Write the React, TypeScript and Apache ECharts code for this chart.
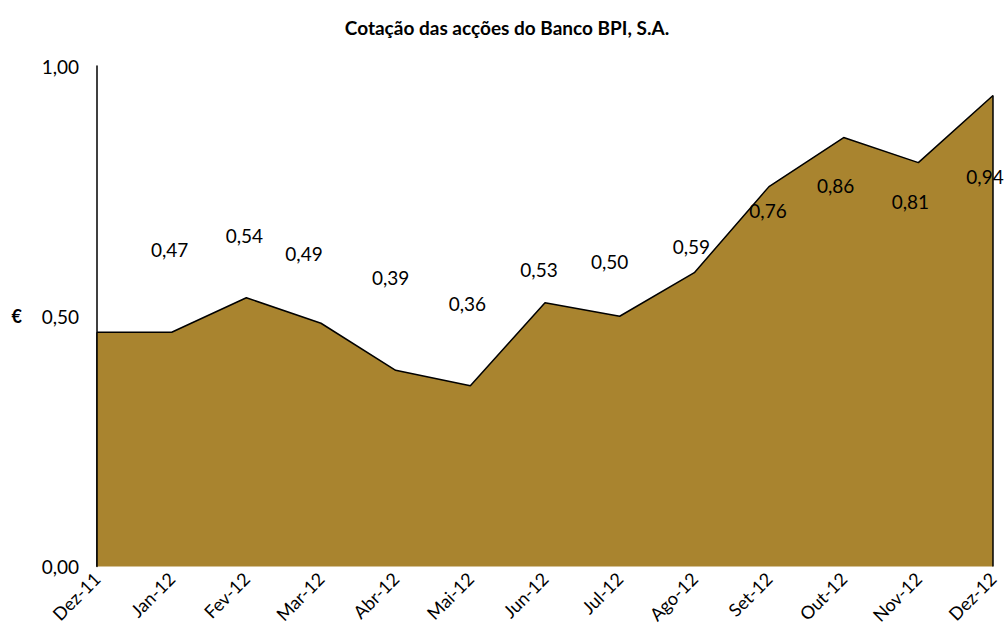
import React, { useEffect, useRef } from "react";
import * as echarts from "echarts";

const categories = ["Dez-11", "Jan-12", "Fev-12", "Mar-12", "Abr-12", "Mai-12", "Jun-12", "Jul-12", "Ago-12", "Set-12", "Out-12", "Nov-12", "Dez-12"];
const prices = [0.468, 0.468, 0.537, 0.486, 0.392, 0.361, 0.527, 0.5, 0.587, 0.759, 0.857, 0.807, 0.941];
const showLabel = [false, true, true, true, true, true, true, true, true, true, true, true, true];
const yTicks = [0, 0.5, 1];

// label placement offsets (pixels) relative to each point
const labelOffsets: [number, number][] = [
  [0, 0], [-1, -82], [-1, -61], [-16, -69], [-4, -92], [-2, -81], [-5, -32],
  [-9, -54], [-2, -25], [0, 25], [-7, 49], [-7, 40], [-7, 82],
];

const FONT = "Lato, 'Open Sans', sans-serif";

export default function App() {
  const ref = useRef<HTMLDivElement>(null);
  useEffect(() => {
    document.body.style.margin = "0";
    const chart = echarts.init(ref.current!, undefined, { renderer: "svg" });
    const fmt = (v: number) => v.toFixed(2).replace(".", ",");
    chart.setOption({
      animation: false,
      textStyle: { fontFamily: FONT },
      title: {
        text: "Cotação das acções do Banco BPI, S.A.",
        left: 502,
        textAlign: "center",
        top: 13,
        textStyle: { fontFamily: FONT, fontSize: 19, fontWeight: "bold", color: "#000" },
      },
      grid: { left: 97, right: 13, top: 66, bottom: 71.5, containLabel: false },
      xAxis: {
        type: "category",
        data: categories,
        boundaryGap: false,
        axisLine: { show: true, lineStyle: { color: "#000", width: 2, shadowColor: "rgba(0,0,0,0.35)", shadowOffsetY: 2, shadowBlur: 2 } },
        axisTick: { show: false },
        axisLabel: { rotate: 45, fontSize: 18, color: "#000", margin: 9, fontFamily: FONT, interval: 0 },
        splitLine: { show: false },
      },
      yAxis: {
        type: "value",
        min: yTicks[0],
        max: yTicks[yTicks.length - 1],
        interval: 0.5,
        name: "€",
        nameLocation: "middle",
        nameRotate: 0,
        nameGap: 75,
        nameTextStyle: { fontSize: 18, fontWeight: "bold", color: "#000", fontFamily: FONT },
        axisLine: { show: true, lineStyle: { color: "#000", width: 1.5 } },
        axisTick: { show: false },
        axisLabel: { formatter: (v: number) => fmt(v), fontSize: 19, color: "#000", margin: 18, fontFamily: FONT },
        splitLine: { show: false },
      },
      series: [
        {
          type: "line",
          data: prices.map((v, i) => ({
            value: v,
            label: { show: showLabel[i], position: labelOffsets[i] },
          })),
          symbol: "circle",
          symbolSize: 2,
          showSymbol: true,
          itemStyle: { color: "rgba(0,0,0,0)", borderWidth: 0 },
          lineStyle: { color: "#000", width: 1.5 },
          areaStyle: { color: "#A9842F", opacity: 1 },
          label: {
            show: true,
            align: "center",
            verticalAlign: "middle",
            fontSize: 19,
            color: "#000",
            fontFamily: FONT,
            formatter: (p: any) => fmt(p.value),
          },
          labelLayout: { hideOverlap: false },
          markLine: {
            silent: true,
            symbol: "none",
            label: { show: false },
            lineStyle: { color: "#000", width: 1.5, type: "solid" },
            data: [
              [
                { coord: [categories[categories.length - 1], 0] },
                { coord: [categories[categories.length - 1], prices[prices.length - 1]] },
              ],
              [
                { coord: [categories[0], 0] },
                { coord: [categories[0], prices[0]] },
              ],
            ],
          },
        },
      ],
    });
    return () => chart.dispose();
  }, []);
  return <div ref={ref} style={{ width: 1006, height: 638 }} />;
}
